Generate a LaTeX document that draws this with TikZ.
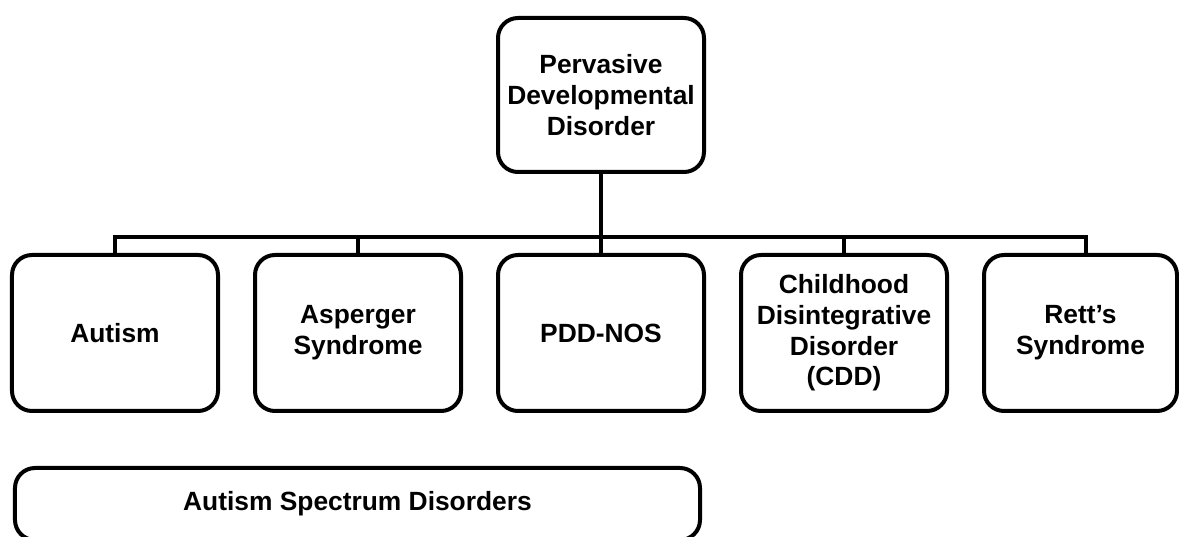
\documentclass[tikz,border=0pt]{standalone}
\usepackage{fontspec}
\setmainfont{Liberation Sans}
\usetikzlibrary{positioning}

\begin{document}
\begin{tikzpicture}[line width=0.08cm,node distance=0.66cm,
            box node/.style={draw,rounded corners=0.4cm,align=center,minimum width=4.12cm,minimum height=3.12cm,
            inner sep=2pt,font=\fontsize{15}{17.5}\selectfont\bfseries}]
        \useasboundingbox (-2.3,-4.08) rectangle (21.28,6.66);

        \node[box node] (autism) at (0,0) {Autism};
        \node[box node] (asperger) [right=of autism] {Asperger\\Syndrome};
        \node[box node] (pddnos) [right=of asperger] {PDD-NOS};
        \node[box node] (cdd) [right=of pddnos] {Childhood\\Disintegrative\\Disorder\\(CDD)};
        \node[box node,minimum width=3.86cm] (rett) [right=of cdd] {Rett’s\\Syndrome};
        \node[box node,minimum height=3.08cm] (pervasive) [above=1.58cm of pddnos] {Pervasive\\Developmental\\Disorder};
        \node[box node,minimum width=13.7cm,minimum height=1.44cm,anchor=north west] (spectrum)
            at ([xshift=0.06cm,yshift=-1.06cm]autism.south west) {Autism Spectrum Disorders};

        \coordinate (bus) at ([yshift=0.32cm]pddnos.north);
        \coordinate (rett drop) at ([xshift=0.11cm]rett.north);
        \draw (pervasive) -- (pddnos);
        \draw (autism.north) |- (bus) -| (rett drop);
        \foreach \n in {asperger,cdd}
            \draw (\n.north) -- (\n.north |- bus);

    \end{tikzpicture}
\end{document}
